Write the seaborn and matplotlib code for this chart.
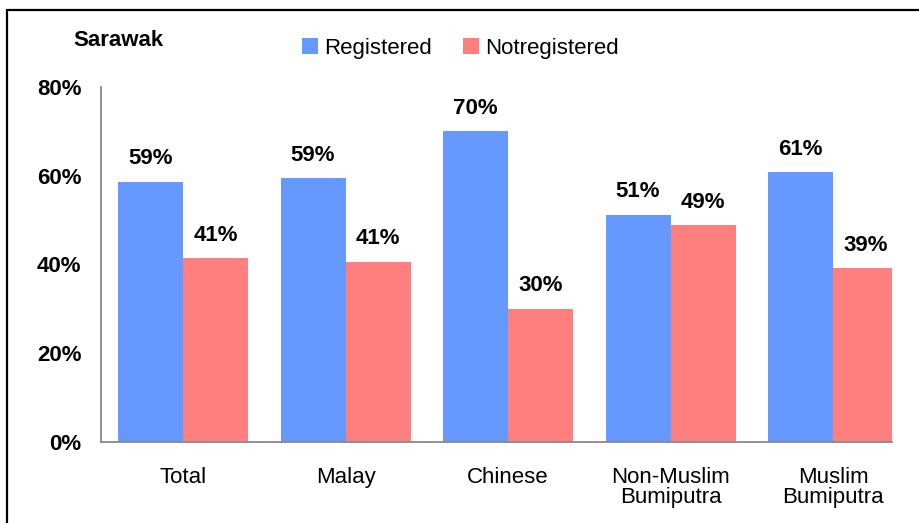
import matplotlib
matplotlib.use("Agg")
import matplotlib.pyplot as plt
from matplotlib.lines import Line2D
from matplotlib.ticker import FuncFormatter
import pandas as pd
import seaborn as sns

CATEGORIES = ["Total", "Malay", "Chinese", "Non-Muslim\nBumiputra", "Muslim\nBumiputra"]
SERIES = ["Registered", "Notregistered"]
REGISTERED = [58.6, 59.4, 70.0, 51.2, 60.8]
NOT_REGISTERED = [41.4, 40.6, 30.0, 48.8, 39.2]
Y_TICKS = [0, 20, 40, 60, 80]
COLORS = ["#6699FF", "#FF7F7F"]

df = pd.DataFrame({
    "category": CATEGORIES * 2,
    "series": [SERIES[0]] * len(CATEGORIES) + [SERIES[1]] * len(CATEGORIES),
    "value": REGISTERED + NOT_REGISTERED,
})

sns.set_style("white")
plt.rcParams["font.family"] = ["Liberation Sans", "DejaVu Sans"]
plt.rcParams["text.color"] = "black"
plt.rcParams["xtick.color"] = "black"
plt.rcParams["ytick.color"] = "black"

W, H = 919, 523
fig = plt.figure(figsize=(W / 100, H / 100), dpi=100)
ax = fig.add_axes([101 / W, 1 - 442 / H, (892 - 101) / W, (442 - 87) / H])

sns.barplot(
    data=df, x="category", y="value", hue="series",
    order=CATEGORIES, hue_order=SERIES, palette=COLORS,
    saturation=1, width=0.8, linewidth=0, ax=ax, legend=True,
)

ax.set_xlim(-0.505, 4.363)
ax.set_ylim(0, 80)
ax.set_yticks(Y_TICKS)
ax.yaxis.set_major_formatter(FuncFormatter(lambda v, _: f"{v:.0f}%"))
ax.set_xlabel("")
ax.set_ylabel("")

for side in ["top", "right"]:
    ax.spines[side].set_visible(False)
for side in ["left", "bottom"]:
    ax.spines[side].set_color("#888888")
    ax.spines[side].set_linewidth(1.3)

ax.tick_params(axis="both", length=0)
ax.tick_params(axis="y", pad=14, labelsize=16, labelcolor="black")
ax.tick_params(axis="x", pad=18, labelsize=16, labelcolor="black")
for lbl in ax.get_yticklabels():
    lbl.set_fontweight("bold")
for lbl in ax.get_xticklabels():
    lbl.set_linespacing(0.95)

for container in ax.containers:
    labels = [f"{bar.get_height():.0f}%" for bar in container]
    ax.bar_label(container, labels=labels, padding=9, color="black",
                 fontsize=16, fontweight="bold", clip_on=False)

handles, labels = ax.get_legend_handles_labels()
ax.get_legend().remove()
fig.legend(
    handles, labels, loc="upper left", ncol=2, frameon=False,
    bbox_to_anchor=(302 / W, 1 - 38 / H), fontsize=16,
    handlelength=0.7, handleheight=0.7, handletextpad=0.3,
    columnspacing=1.4, borderpad=0, borderaxespad=0,
)

fig.text(73 / W, 1 - 41 / H, "Sarawak", fontsize=16, fontweight="bold",
         ha="left", va="center")

# frame around the chart (only top and left edges are in view)
fig.add_artist(Line2D([7 / W, 7 / W], [0, 1 - 10 / H], color="black", lw=1.6,
                      transform=fig.transFigure))
fig.add_artist(Line2D([7 / W, 1], [1 - 10 / H, 1 - 10 / H], color="black", lw=1.6,
                      transform=fig.transFigure))

fig.savefig("out.png", dpi=100)
